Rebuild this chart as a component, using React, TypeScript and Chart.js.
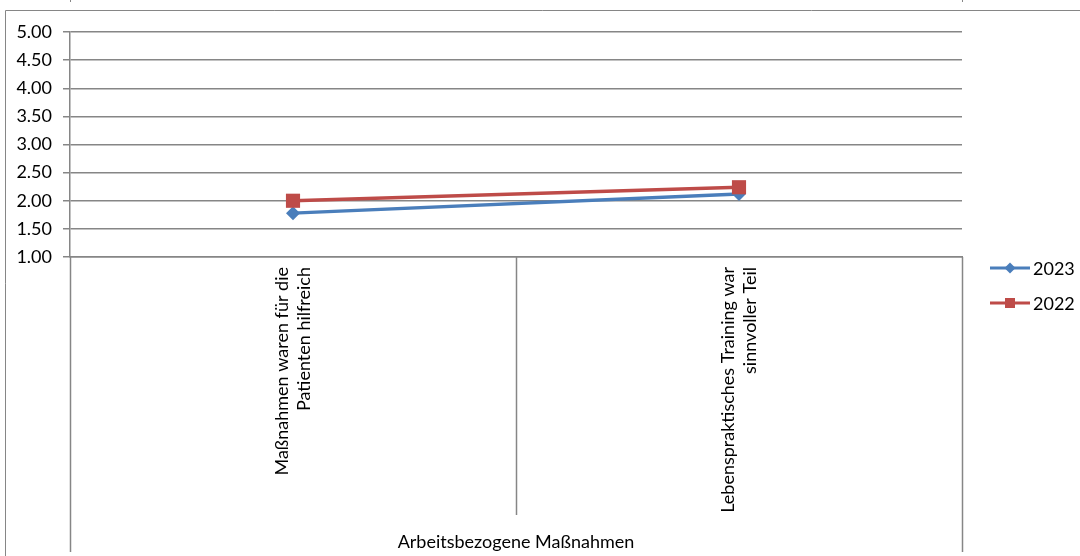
import React, { useEffect, useRef } from "react";
import { Chart, registerables } from "chart.js";

Chart.register(...registerables);

const categories: string[][] = [
  ["Maßnahmen waren für die", "Patienten hilfreich"],
  ["Lebenspraktisches Training war", "sinnvoller Teil"],
];
const groupLabel = "Arbeitsbezogene Maßnahmen";
const seriesNames = ["2023", "2022"];
const values2023 = [1.78, 2.12];
const values2022 = [2.0, 2.24];
const yMin = 1;
const yMax = 5;
const yStep = 0.5;

const BLUE = "#4a7ebb";
const RED = "#be4b48";
const GRAY = "#868686";
const FONT = "Lato";

export default function App() {
  const ref = useRef<HTMLCanvasElement | null>(null);

  useEffect(() => {
    document.body.style.margin = "0";
    const canvas = ref.current;
    if (!canvas) return;

    const decor = {
      id: "decor",
      afterDraw(chart: any) {
        const ctx = chart.ctx;
        const area = chart.chartArea;
        const xs = chart.scales.x;
        ctx.save();
        // outer chart border (cropped)
        ctx.strokeStyle = GRAY;
        ctx.lineWidth = 1;
        ctx.beginPath();
        ctx.moveTo(5.5, 556);
        ctx.lineTo(5.5, 10.5);
        ctx.lineTo(1080, 10.5);
        ctx.moveTo(70.5, 0);
        ctx.lineTo(70.5, 2);
        ctx.moveTo(962.5, 0);
        ctx.lineTo(962.5, 2);
        ctx.stroke();

        // category dividers below the axis
        const n = categories.length;
        const p0 = xs.getPixelForValue(0);
        const p1 = xs.getPixelForValue(1);
        const half = (p1 - p0) / 2;
        ctx.lineWidth = 1.5;
        ctx.beginPath();
        for (let i = 0; i <= n; i++) {
          const x = Math.round(xs.getPixelForValue(i) - half) + 0.5;
          const bottom = i === 0 || i === n ? 552 : 515;
          ctx.moveTo(x, area.bottom);
          ctx.lineTo(x, bottom);
        }
        ctx.stroke();

        // legend
        const items = [
          { name: seriesNames[0], color: BLUE, style: "diamond" },
          { name: seriesNames[1], color: RED, style: "square" },
        ];
        items.forEach((it, i) => {
          const y = 268 + i * 35;
          ctx.strokeStyle = it.color;
          ctx.lineWidth = 3;
          ctx.beginPath();
          ctx.moveTo(990, y);
          ctx.lineTo(1030, y);
          ctx.stroke();
          ctx.fillStyle = it.color;
          ctx.beginPath();
          if (it.style === "diamond") {
            const r = 5.5;
            ctx.moveTo(1010, y - r);
            ctx.lineTo(1010 + r, y);
            ctx.lineTo(1010, y + r);
            ctx.lineTo(1010 - r, y);
            ctx.closePath();
          } else {
            ctx.rect(1005, y - 5, 10, 10);
          }
          ctx.fill();
          ctx.fillStyle = "#000";
          ctx.font = `18px ${FONT}`;
          ctx.textBaseline = "middle";
          ctx.textAlign = "left";
          ctx.fillText(it.name, 1033, y + 1);
        });
        ctx.restore();
      },
    };

    const chart = new Chart(canvas, {
      type: "line",
      data: {
        labels: categories,
        datasets: [
          {
            label: seriesNames[0],
            data: values2023,
            borderColor: BLUE,
            backgroundColor: BLUE,
            borderWidth: 3.5,
            pointStyle: "rectRot",
            pointRadius: 7,
            pointBorderWidth: 0,
            order: 1,
          },
          {
            label: seriesNames[1],
            data: values2022,
            borderColor: RED,
            backgroundColor: RED,
            borderWidth: 3.5,
            pointStyle: "rect",
            pointRadius: 10,
            pointBorderWidth: 0,
            order: 0,
          },
        ],
      },
      options: {
        responsive: true,
        maintainAspectRatio: false,
        animation: false,
        layout: { padding: { left: 0, top: 32, right: 118, bottom: 0 } },
        plugins: {
          legend: { display: false },
          tooltip: { enabled: false },
        },
        scales: {
          x: {
            type: "category",
            offset: true,
            grid: { drawOnChartArea: false, drawTicks: false, offset: true },
            border: { display: true, color: GRAY, width: 1.5 },
            ticks: {
              minRotation: 90,
              maxRotation: 90,
              autoSkip: false,
              padding: 10,
              labelOffset: -11,
              color: "#000",
              font: { family: FONT, size: 18, lineHeight: 1.22 },
            },
            title: {
              display: true,
              text: groupLabel,
              color: "#000",
              font: { family: FONT, size: 18 },
              padding: { top: 4, bottom: 3 },
            },
            afterFit: (scale: any) => {
              scale.height = 556 - 257;
            },
          },
          y: {
            min: yMin,
            max: yMax,
            grid: { color: GRAY, lineWidth: 1.5, tickLength: 7 },
            border: { display: true, color: GRAY, width: 1.5 },
            ticks: {
              stepSize: yStep,
              padding: 11,
              color: "#000",
              font: { family: FONT, size: 18 },
              callback: (v: any) => Number(v).toFixed(2),
            },
            afterFit: (scale: any) => {
              scale.width = 70;
            },
          },
        },
      },
      plugins: [decor],
    });

    return () => chart.destroy();
  }, []);

  return (
    <div style={{ position: "absolute", left: 0, top: 0, width: 1080, height: 556 }}>
      <canvas ref={ref} />
    </div>
  );
}
